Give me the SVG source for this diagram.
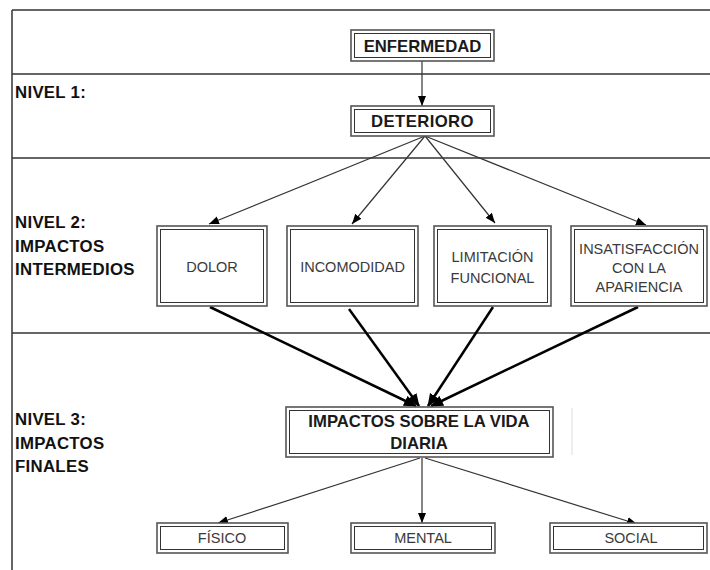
<svg xmlns="http://www.w3.org/2000/svg" width="710" height="570" viewBox="0 0 710 570">
<style>
.frame{stroke:#333;stroke-width:1.5;fill:none}
.bo{fill:#fff;stroke:#555;stroke-width:1.6}
.bi{fill:none;stroke:#333;stroke-width:1}
.lvl{font-family:"Liberation Sans",Arial,sans-serif;font-weight:bold;font-size:16.8px;letter-spacing:0.3px;fill:#111}
.tb{font-family:"Liberation Sans",Arial,sans-serif;font-weight:bold;font-size:16.7px;fill:#1a1a1a;text-anchor:middle}
.tr{font-family:"Liberation Sans",Arial,sans-serif;font-size:14.5px;fill:#3a3a3a;text-anchor:middle}
.thin{stroke:#333;stroke-width:1.2;fill:none}
.thick{stroke:#000;stroke-width:2.5;fill:none}
</style>
<defs>
<marker id="ah" markerUnits="userSpaceOnUse" markerWidth="10" markerHeight="10" viewBox="0 0 10 10" refX="10" refY="5" orient="auto">
<path d="M0,1 L10,5 L0,9 Z" fill="#000"/>
</marker>
<marker id="ahb" markerUnits="userSpaceOnUse" markerWidth="13" markerHeight="12" viewBox="0 0 13 12" refX="12" refY="6" orient="auto">
<path d="M0,0.5 L13,6 L0,11.5 Z" fill="#000"/>
</marker>
</defs>

<g id="frame">
<line class="frame" x1="12" y1="10" x2="710" y2="10"/>
<line class="frame" x1="12" y1="10" x2="12" y2="570"/>
<line class="frame" x1="12" y1="74" x2="710" y2="74"/>
<line class="frame" x1="12" y1="158" x2="710" y2="158"/>
<line class="frame" x1="12" y1="333" x2="710" y2="333"/>
<line x1="572" y1="408" x2="572" y2="455" stroke="#ddd" stroke-width="1"/>
</g>

<g id="labels">
<text class="lvl" x="15" y="98">NIVEL 1:</text>
<text class="lvl" x="15" y="228">NIVEL 2:</text>
<text class="lvl" x="15" y="252">IMPACTOS</text>
<text class="lvl" x="15" y="275">INTERMEDIOS</text>
<text class="lvl" x="15" y="425">NIVEL 3:</text>
<text class="lvl" x="15" y="449">IMPACTOS</text>
<text class="lvl" x="15" y="472">FINALES</text>
</g>

<g id="connectors">
<line class="thin" x1="422" y1="61" x2="422" y2="106" marker-end="url(#ah)"/>
<line class="thin" x1="425" y1="136" x2="209" y2="224" marker-end="url(#ah)"/>
<line class="thin" x1="425" y1="136" x2="352" y2="224" marker-end="url(#ah)"/>
<line class="thin" x1="425" y1="136" x2="495" y2="223" marker-end="url(#ah)"/>
<line class="thin" x1="425" y1="136" x2="646" y2="225" marker-end="url(#ah)"/>
<line class="thick" x1="210" y1="307" x2="416" y2="406" marker-end="url(#ahb)"/>
<line class="thick" x1="349" y1="309" x2="419" y2="406" marker-end="url(#ahb)"/>
<line class="thick" x1="493" y1="307" x2="428" y2="406" marker-end="url(#ahb)"/>
<line class="thick" x1="638" y1="307" x2="431" y2="406" marker-end="url(#ahb)"/>
<line class="thin" x1="420" y1="458" x2="218" y2="523" marker-end="url(#ah)"/>
<line class="thin" x1="422" y1="458" x2="422" y2="523" marker-end="url(#ah)"/>
<line class="thin" x1="425" y1="458" x2="637" y2="524" marker-end="url(#ah)"/>
</g>

<g id="enfermedad">
<rect class="bo" x="351" y="30" width="143" height="31"/>
<rect class="bi" x="354.5" y="33.5" width="136" height="24"/>
<text class="tb" x="422.5" y="51.5">ENFERMEDAD</text>
</g>

<g id="deterioro">
<rect class="bo" x="351" y="106" width="143" height="30"/>
<rect class="bi" x="354.5" y="109.5" width="136" height="23"/>
<text class="tb" x="422.5" y="127" letter-spacing="0.4">DETERIORO</text>
</g>

<g id="dolor">
<rect class="bo" x="157" y="226" width="110" height="80"/>
<rect class="bi" x="160.5" y="229.5" width="103" height="73"/>
<text class="tr" x="212" y="272">DOLOR</text>
</g>

<g id="incomodidad">
<rect class="bo" x="287" y="226" width="131" height="80"/>
<rect class="bi" x="290.5" y="229.5" width="124" height="73"/>
<text class="tr" x="352.5" y="272">INCOMODIDAD</text>
</g>

<g id="limitacion">
<rect class="bo" x="434" y="226" width="117" height="80"/>
<rect class="bi" x="437.5" y="229.5" width="110" height="73"/>
<text class="tr" x="492.5" y="262">LIMITACIÓN</text>
<text class="tr" x="492.5" y="283">FUNCIONAL</text>
</g>

<g id="insatisfaccion">
<rect class="bo" x="571" y="226" width="136" height="80"/>
<rect class="bi" x="574.5" y="229.5" width="129" height="73"/>
<text class="tr" x="639" y="254">INSATISFACCIÓN</text>
<text class="tr" x="639" y="273">CON LA</text>
<text class="tr" x="639" y="292">APARIENCIA</text>
</g>

<g id="impactos">
<rect class="bo" x="286" y="407" width="267" height="50"/>
<rect class="bi" x="289.5" y="410.5" width="260" height="43"/>
<text class="tb" x="419" y="427">IMPACTOS SOBRE LA VIDA</text>
<text class="tb" x="419" y="449">DIARIA</text>
</g>

<g id="fisico">
<rect class="bo" x="157" y="523" width="131" height="30"/>
<rect class="bi" x="160.5" y="526.5" width="124" height="23"/>
<text class="tr" x="222" y="543">FÍSICO</text>
</g>

<g id="mental">
<rect class="bo" x="351" y="523" width="144" height="30"/>
<rect class="bi" x="354.5" y="526.5" width="137" height="23"/>
<text class="tr" x="423" y="543">MENTAL</text>
</g>

<g id="social">
<rect class="bo" x="550" y="523" width="157" height="30"/>
<rect class="bi" x="553.5" y="526.5" width="150" height="23"/>
<text class="tr" x="631" y="543">SOCIAL</text>
</g>
</svg>
